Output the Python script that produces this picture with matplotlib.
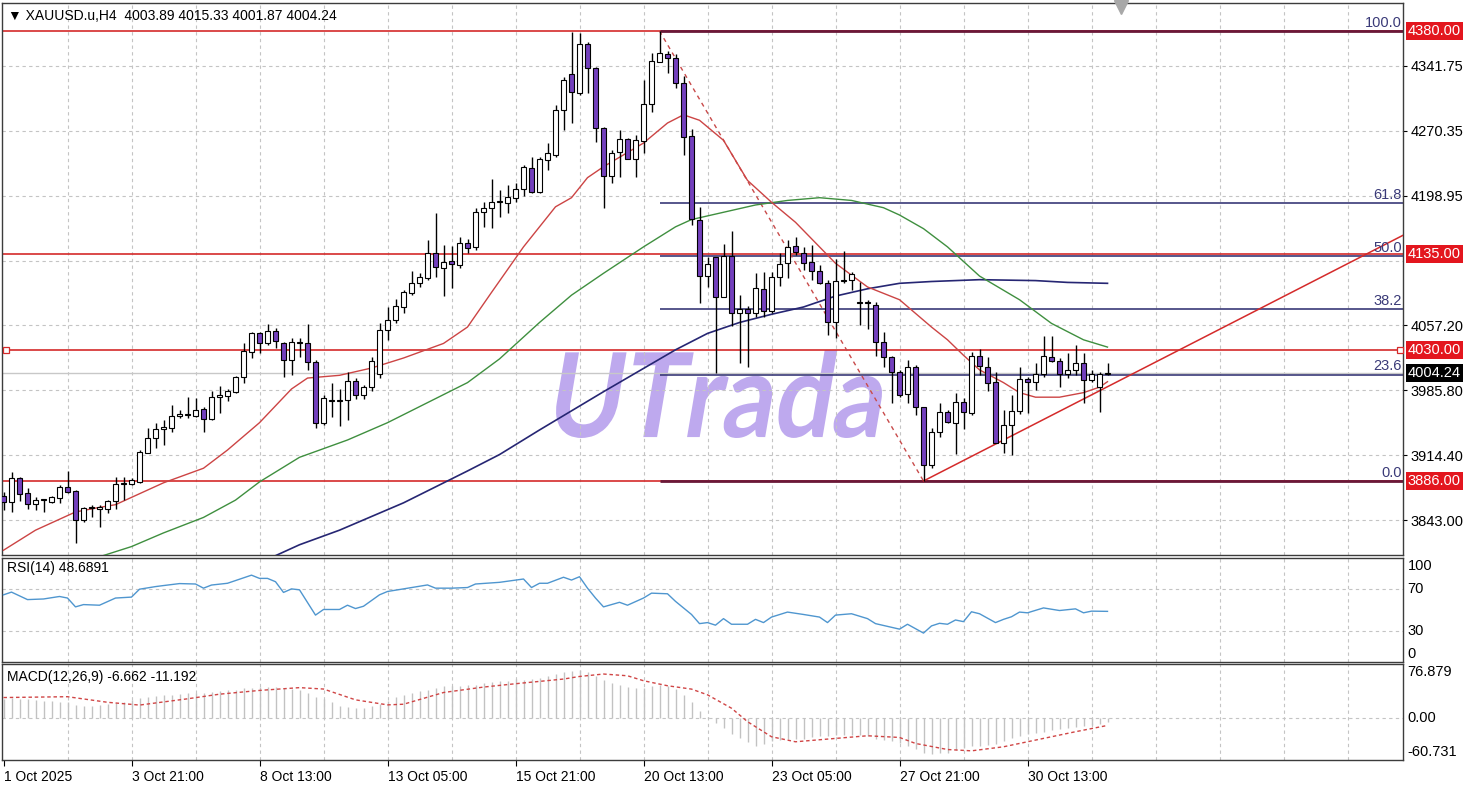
import matplotlib
matplotlib.use("Agg")
import matplotlib.pyplot as plt
import numpy as np
from matplotlib.patches import Rectangle, PathPatch
from matplotlib.textpath import TextPath
from matplotlib.font_manager import FontProperties
from matplotlib.transforms import Affine2D, blended_transform_factory

plt.rcParams['font.family'] = ['Liberation Sans', 'DejaVu Sans']

# ---------------- data ----------------
opens = [3869,3863,3889,3873,3861,3865,3863,3867,3879,3875,
         3843,3856,3855,3855,3864,3883,3883,3885,3917,3933,
         3943,3944,3957,3958,3957,3965,3954,3978,3979,3984,
         4000,4028,4049,4037,4051,4037,4019,4038,4037,4017,
         3950,3974,3974,3975,3996,3980,3989,4003,4052,4063,
         4077,4092,4103,4109,4136,4120,4127,4123,4147,4143,
         4181,4186,4192,4191,4197,4207,4230,4203,4238,4244,
         4293,4333,4312,4366,4339,4273,4221,4247,4261,4240,
         4259,4300,4346,4355,4350,4323,4265,4173,4111,4132,
         4088,4133,4070,4075,4070,4097,4073,4110,4125,4144,
         4136,4126,4117,4103,4061,4106,4107,4082,4082,4079,
         4039,4022,4006,3981,4011,3967,3904,3940,3962,3950,
         3973,3961,4023,4011,3995,3928,3947,3963,3998,3995,
         4003,4022,4018,4003,4008,4016,3997,3989,4003.89]
highs = [3874,3896,3890,3878,3868,3866,3870,3882,3897,3876,
         3857,3860,3860,3865,3890,3890,3889,3920,3944,3950,
         3953,3969,3964,3978,3977,3967,3985,3990,3987,4001,
         4037,4050,4050,4058,4054,4039,4043,4043,4058,4019,
         3980,3994,3987,4006,3999,3991,4022,4059,4077,4086,
         4096,4117,4114,4151,4180,4145,4144,4154,4152,4186,
         4192,4218,4205,4211,4213,4233,4242,4242,4257,4299,
         4330,4379,4378,4368,4341,4275,4249,4271,4263,4266,
         4326,4356,4380,4358,4355,4331,4272,4187,4132,4132,
         4146,4160,4090,4078,4114,4115,4115,4136,4151,4154,
         4143,4145,4123,4107,4130,4138,4115,4105,4085,4082,
         4050,4023,4008,4019,4013,3967,3944,3972,3964,3983,
         3977,4028,4031,4022,4006,3964,3980,4011,4000,4016,
         4045,4045,4021,4027,4035,4027,4008,4006,4015.33]
lows = [3854,3852,3864,3855,3854,3852,3862,3862,3873,3818,
        3841,3847,3836,3851,3855,3865,3882,3884,3917,3922,
        3925,3940,3955,3955,3956,3940,3953,3961,3974,3983,
        3994,4021,4027,4035,4032,4000,4002,4022,4008,3944,
        3947,3956,3946,3953,3976,3976,3985,3999,4041,4059,
        4070,4090,4099,4107,4110,4089,4098,4120,4136,4140,
        4165,4164,4176,4180,4192,4199,4202,4202,4227,4242,
        4271,4279,4310,4312,4258,4186,4213,4220,4239,4220,
        4246,4291,4346,4334,4317,4244,4167,4081,4099,4005,
        4088,4056,4016,4011,4066,4066,4070,4100,4109,4134,
        4118,4107,4102,4046,4043,4103,4096,4057,4053,4023,
        4011,3972,3978,3972,3958,3886,3900,3934,3950,3916,
        3943,3958,4002,3985,3928,3917,3914,3960,3961,3986,
        4000,4017,3989,3999,4002,3972,3995,3962,4001.87]
closes = [3863,3889,3872,3861,3865,3866,3868,3879,3874,3843,
          3856,3857,3857,3864,3883,3884,3887,3918,3933,3943,
          3945,3957,3959,3959,3964,3954,3978,3980,3985,4000,
          4029,4049,4038,4051,4040,4019,4039,4039,4017,3950,
          3977,3975,3975,3996,3980,3989,4018,4052,4063,4078,
          4093,4103,4110,4136,4121,4126,4124,4147,4142,4181,
          4186,4192,4193,4198,4207,4231,4203,4239,4246,4293,
          4326,4313,4366,4339,4273,4221,4246,4261,4240,4260,
          4300,4347,4356,4350,4323,4264,4174,4111,4124,4088,
          4133,4070,4075,4070,4098,4073,4110,4124,4143,4137,
          4125,4117,4103,4061,4106,4107,4113,4081,4081,4039,
          4022,4006,3980,4011,3967,3904,3940,3962,3951,3973,
          3962,4023,4012,3994,3928,3947,3963,3998,3995,4003,
          4023,4018,4003,4008,4016,3997,4003,4004,4004.24]

x_labels = ["1 Oct 2025", "3 Oct 21:00", "8 Oct 13:00", "13 Oct 05:00", "15 Oct 21:00",
            "20 Oct 13:00", "23 Oct 05:00", "27 Oct 21:00", "30 Oct 13:00"]
x_label_bars = [0, 16, 32, 48, 64, 80, 96, 112, 128]

price_ticks = [4341.75, 4270.35, 4198.95, 4057.20, 3985.80, 3914.40, 3843.00]
price_grid = [4341.75, 4270.35, 4198.95, 4127.55, 4057.20, 3985.80, 3914.40, 3843.00]
level_lines = [4380.00, 4135.00, 4030.00, 3886.00]
fib_ratios = [100.0, 61.8, 50.0, 38.2, 23.6, 0.0]
fib_high, fib_low = 4380.0, 3886.0
fib_bars = [82, 115]
trend_bars = [115, 175]
trend_prices = [3886.0, 4156.0]
bid_price = 4004.24

ma20_bars = [0, 4, 9, 12, 14, 20, 25, 28, 32, 36, 38, 42, 46, 50, 55, 58, 61, 65, 69, 71, 73, 75,
             80, 83, 85, 87, 90, 93, 96, 99, 102, 104, 108, 112, 114, 116, 118, 120, 122, 125,
             127, 129, 132, 135, 137, 138]
ma20_vals = [3810, 3832, 3852, 3857, 3860, 3884, 3900, 3920, 3950, 3987, 3999, 4002, 4010, 4021,
             4037, 4055, 4093, 4143, 4187, 4197, 4219, 4231, 4257, 4279, 4288, 4282, 4260, 4216,
             4192, 4170, 4143, 4125, 4099, 4085, 4070, 4055, 4041, 4024, 4008, 3994, 3983, 3978,
             3978, 3983, 3989, 3995]
ma50_bars = [11, 16, 20, 25, 29, 32, 37, 43, 48, 53, 58, 62, 67, 71, 75, 80, 84, 86, 90, 94, 98,
             102, 106, 110, 112, 115, 118, 122, 127, 131, 135, 138]
ma50_vals = [3800, 3814, 3829, 3846, 3865, 3885, 3912, 3931, 3950, 3972, 3994, 4020, 4060, 4090,
             4114, 4143, 4165, 4173, 4181, 4189, 4194, 4197, 4194, 4186, 4178, 4163, 4143, 4111,
             4085, 4059, 4041, 4033]
ma100_bars = [33, 37, 42, 50, 58, 62, 67, 75, 84, 88, 92, 96, 100, 104, 108, 112, 116, 122, 129,
              133, 138]
ma100_vals = [3800, 3816, 3832, 3862, 3897, 3915, 3942, 3984, 4030, 4048, 4060, 4069, 4077, 4089,
              4097, 4103, 4105, 4107, 4106, 4104, 4103]

rsi_bars = [0, 1, 3, 5, 7, 8, 9, 10, 12, 14, 16, 17, 19, 20, 22, 24, 25, 26, 28, 31, 32, 33, 34,
            35, 36, 37, 39, 40, 42, 43, 44, 45, 47, 48, 50, 53, 54, 56, 58, 59, 62, 65, 66, 67,
            68, 70, 71, 72, 73, 74, 75, 77, 78, 80, 81, 83, 84, 86, 87, 88, 89, 90, 91, 93, 94,
            95, 96, 98, 100, 102, 103, 104, 106, 108, 109, 112, 113, 115, 116, 117, 118, 119,
            120, 121, 122, 124, 125, 126, 127, 128, 130, 132, 134, 135, 136, 138]
rsi_vals = [64.6, 67.2, 60.0, 60.6, 63.0, 61.5, 53.0, 55.2, 54.6, 61.5, 62.4, 70.0, 72.5, 73.5,
            75.4, 75.0, 71.0, 74.0, 75.7, 83.5, 80.4, 80.4, 77.2, 66.9, 70.3, 69.4, 45.1, 50.5,
            50.5, 54.6, 51.4, 53.6, 64.6, 67.8, 70.3, 74.1, 71.0, 71.0, 71.6, 75.0, 76.6, 79.8,
            71.6, 75.7, 75.7, 81.5, 78.8, 82.0, 71.0, 61.5, 53.0, 57.4, 54.6, 61.5, 66.2, 65.6,
            58.3, 45.7, 36.9, 37.9, 35.4, 41.7, 36.3, 36.3, 41.0, 37.9, 43.2, 48.0, 45.7, 43.2,
            37.9, 45.1, 46.4, 41.7, 36.9, 31.6, 36.3, 27.8, 34.7, 37.2, 36.3, 40.4, 38.8, 48.3,
            46.4, 37.9, 41.0, 43.5, 48.0, 47.3, 52.0, 49.5, 51.1, 47.3, 48.9, 48.6891]

macd_vals = [27, 28, 27, 26, 25, 24, 24, 23, 22, 18,
             17, 17, 18, 19, 21, 23, 25, 28, 30, 31,
             32, 33, 34, 35, 35, 36, 37, 38, 39, 40,
             42, 43, 44, 44, 44, 42, 41, 40, 35, 30,
             26, 22, 17, 15, 14, 14, 16, 20, 24, 30,
             33, 36, 38, 40, 42, 45, 46, 46, 47, 47,
             50, 51, 52, 53, 55, 54, 55, 57, 60, 63,
             66, 67, 68, 66, 60, 54, 50, 47, 44, 42,
             43, 46, 47, 45, 41, 33, 22, 10, 1, -7,
             -15, -23, -29, -35, -40, -38, -34, -32, -31, -31,
             -30, -28, -27, -26, -25, -25, -25, -25, -27, -30,
             -32, -33, -36, -40, -45, -50, -52, -51, -50, -46,
             -43, -41, -41, -39, -38, -34, -29, -26, -24, -22,
             -20, -18, -16, -15, -14, -12, -10, -8.5, -6.662]
signal_bars = [0, 8, 13, 17, 23, 27, 32, 37, 40, 44, 48, 50, 55, 60, 64, 70, 72, 75, 78, 80, 83,
               86, 88, 91, 93, 96, 99, 104, 108, 112, 114, 118, 121, 125, 130, 134, 138]
signal_vals = [28.8, 30.0, 22.0, 18.0, 27.0, 33.6, 39.0, 43.0, 41.0, 25.5, 18.3, 19.2, 36.0, 43.8,
               48.6, 55.3, 59.0, 62.5, 60.0, 52.9, 45.7, 40.9, 32.7, 13.5, -5.8, -27.4, -34.6,
               -29.8, -26.0, -28.4, -37.0, -45.7, -47.6, -41.8, -29.8, -20.2, -11.192]

header_text = "\u25BC XAUUSD.u,H4  4003.89 4015.33 4001.87 4004.24"
rsi_title = "RSI(14) 48.6891"
macd_title = "MACD(12,26,9) -6.662 -11.192"
watermark = "UTrada"

# ---------------- layout ----------------
W, H = 1477, 787
fig = plt.figure(figsize=(W / 100, H / 100), dpi=100)
fig.patch.set_facecolor('white')


def rect(x0, y0, x1, y1):
    return [x0 / W, 1 - y1 / H, (x1 - x0) / W, (y1 - y0) / H]


ax = fig.add_axes(rect(1.7, 3, 1403.3, 555))
ax_rsi = fig.add_axes(rect(1.7, 558, 1403.3, 662))
ax_macd = fig.add_axes(rect(1.7, 664, 1403.3, 760))

XMIN, XMAX = -0.225, 174.975
PURPLE = '#7340bd'
GRID = '#c4c4c4'
RED = '#d42a2a'
FIBC = '#3a3a78'
FS = 10.5
FS_IN = 10

for a in (ax, ax_rsi, ax_macd):
    a.set_xlim(XMIN, XMAX)
    for s in a.spines.values():
        s.set_color('#3c3c3c')
        s.set_linewidth(1.0)
    for k in range(1, 22):
        a.axvline(8 * k, color=GRID, lw=0.8, ls=(0, (3, 3)), zorder=1)
    a.tick_params(axis='x', bottom=False, labelbottom=False)

# ---- main panel ----
n = len(closes)
bars = np.arange(n)
for g in price_grid:
    ax.axhline(g, color=GRID, lw=0.8, ls=(0, (3, 3)), zorder=1)

# watermark
fp = FontProperties(family='Lato', weight='bold')
tp = TextPath((0, 0), watermark, size=100, prop=fp)
p = Affine2D().skew_deg(11, 0).transform_path(tp)
e = p.get_extents()
bl, br, bt, bb = 556, 882, 350, 438
sx = (br - bl) / (e.x1 - e.x0)
sy = (bb - bt) / (e.y1 - e.y0)
tr = Affine2D().translate(-e.x0, -e.y0).scale(sx / W, sy / H).translate(bl / W, 1 - bb / H)
wm = PathPatch(tr.transform_path(p), transform=fig.transFigure, fc='#bea9ee', ec='none', zorder=0.5)
ax.add_patch(wm)

# bid line
ax.axhline(bid_price, color='#c8c8c8', lw=1.0, zorder=1.5)

# horizontal level lines
for lv in level_lines:
    ax.axhline(lv, color=RED, lw=1.2, zorder=2)
ax.plot([0.25], [4030.0], marker='s', ms=4, mfc='white', mec=RED, mew=0.9, zorder=6, clip_on=False)
ax.plot([174.6], [4030.0], marker='s', ms=4, mfc='white', mec=RED, mew=0.9, zorder=6, clip_on=False)

# fibonacci
for r in fib_ratios:
    lvl = fib_low + (fib_high - fib_low) * r / 100.0
    if r in (100.0, 0.0):
        ax.hlines(lvl, fib_bars[0], XMAX, color='#6a1838', lw=2.0, zorder=2.5)
    else:
        ax.hlines(lvl, fib_bars[0], XMAX, color=FIBC, lw=1.2, zorder=2.5)
    ax.text(174.8, lvl + 1.5, f"{r:.1f}", ha='right', va='bottom', color=FIBC, fontsize=FS, zorder=7)
ax.plot(fib_bars, [fib_high, fib_low], color='#c84a4a', lw=1.0, ls=(0, (3, 3)), zorder=2.6)

# trend line
ax.plot(trend_bars, trend_prices, color=RED, lw=1.1, zorder=2.6)

# moving averages
ax.plot(ma100_bars, ma100_vals, color='#262673', lw=1.2, zorder=2.7)
ax.plot(ma50_bars, ma50_vals, color='#3f8f3f', lw=1.0, zorder=2.7)
ax.plot(ma20_bars, ma20_vals, color='#cc4444', lw=1.0, zorder=2.7)

# candles
ax.vlines(bars, lows, highs, color='black', lw=1.0, zorder=3)
for i in range(n):
    o, c = opens[i], closes[i]
    fc = 'white' if c >= o else PURPLE
    ax.add_patch(Rectangle((i - 0.3, min(o, c)), 0.6, max(abs(c - o), 0.3),
                           fc=fc, ec='black', lw=0.8, zorder=4))

ax.set_ylim(3804.75, 4410.74)
ax.set_xlim(XMIN, XMAX)
ax.yaxis.tick_right()
ax.set_yticks(price_ticks)
ax.set_yticklabels([f"{v:.2f}" for v in price_ticks])
ax.tick_params(axis='y', direction='out', length=3, pad=2, labelsize=FS, colors='black')

# price boxes
bt_tr = blended_transform_factory(ax.transAxes, ax.transData)
for lv in level_lines:
    ax.text(1.0033, lv, f"{lv:.2f}", transform=bt_tr, ha='left', va='center', color='white',
            fontsize=FS, zorder=10, clip_on=False,
            bbox=dict(boxstyle='square,pad=0.15', fc='#e3161e', ec='none'))
ax.text(1.0033, bid_price, f"{bid_price:.2f}", transform=bt_tr, ha='left', va='center',
        color='white', fontsize=FS, zorder=10, clip_on=False,
        bbox=dict(boxstyle='square,pad=0.15', fc='black', ec='none'))

# chart-shift marker
ax.plot([139.7], [4406.0], marker='v', ms=10, color='#a8a8a8', clip_on=False, zorder=8)

fig.text(8 / W, 1 - 15.5 / H, header_text, ha='left', va='center', fontsize=FS_IN, color='black')

# ---- RSI ----
ax_rsi.set_ylim(0, 100)
for g in (70, 30):
    ax_rsi.axhline(g, color=GRID, lw=0.8, ls=(0, (3, 3)), zorder=1)
ax_rsi.plot(rsi_bars, rsi_vals, color='#4f96cf', lw=1.0, zorder=3)
ax_rsi.set_yticks([])
rt = blended_transform_factory(ax_rsi.transAxes, ax_rsi.transData)
ax_rsi.text(1.003, 99, "100", transform=rt, ha='left', va='top', fontsize=FS)
ax_rsi.text(1.003, 70, "70", transform=rt, ha='left', va='center', fontsize=FS)
ax_rsi.text(1.003, 30, "30", transform=rt, ha='left', va='center', fontsize=FS)
ax_rsi.text(1.003, 1, "0", transform=rt, ha='left', va='bottom', fontsize=FS)
ax_rsi.text(0.004, 0.9, rsi_title, transform=ax_rsi.transAxes, ha='left', va='center', fontsize=FS_IN)

# ---- MACD ----
ax_macd.set_ylim(-60.731, 76.879)
ax_macd.axhline(0, color=GRID, lw=0.8, ls=(0, (3, 3)), zorder=1)
ax_macd.vlines(bars, 0, macd_vals, color='#c2c2c2', lw=1.0, zorder=2)
ax_macd.plot(signal_bars, signal_vals, color='#d04545', lw=1.0, ls=(0, (2.5, 2)), zorder=3)
ax_macd.set_yticks([])
mt = blended_transform_factory(ax_macd.transAxes, ax_macd.transData)
ax_macd.text(1.003, 76.0, "76.879", transform=mt, ha='left', va='top', fontsize=FS)
ax_macd.text(1.003, 0, "0.00", transform=mt, ha='left', va='center', fontsize=FS)
ax_macd.text(1.003, -59.5, "-60.731", transform=mt, ha='left', va='bottom', fontsize=FS)
ax_macd.text(0.004, 0.86, macd_title, transform=ax_macd.transAxes, ha='left', va='center', fontsize=FS_IN)

ax_macd.set_xticks(x_label_bars)
ax_macd.set_xticklabels(x_labels, ha='left')
ax_macd.tick_params(axis='x', bottom=True, labelbottom=True, length=4, pad=3, labelsize=FS_IN,
                    direction='out', colors='black')
ax_macd.set_xlim(XMIN, XMAX)

fig.savefig("out.png", dpi=100, facecolor='white')
